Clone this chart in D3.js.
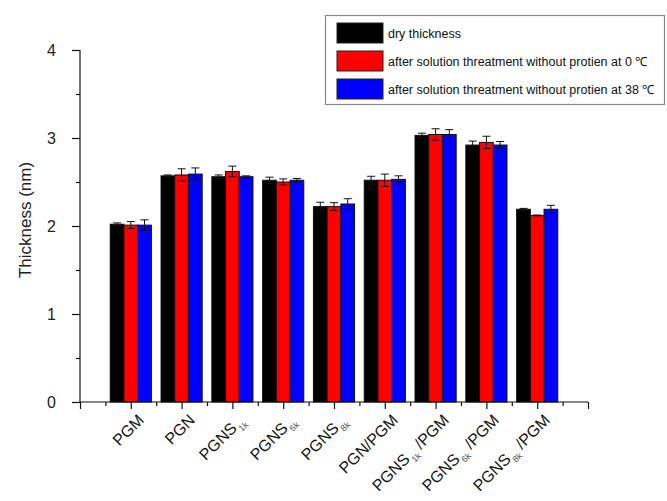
<!DOCTYPE html>
<html>
<head>
<meta charset="utf-8">
<script src="https://cdn.jsdelivr.net/npm/d3@7/dist/d3.min.js"></script>
<style>
  html, body { margin: 0; padding: 0; background: #fff; }
  #wrap { position: relative; width: 667px; height: 501px; }
  svg { display: block; font-family: Arial, "Liberation Sans", Helvetica, sans-serif; }
  .xlab { position: absolute; width: 0; height: 0; transform: rotate(-45deg); transform-origin: 0 0; }
  .xlab span {
    position: absolute; right: 0; top: -13.5px; line-height: 16px; white-space: nowrap;
    font-family: Arial, "Liberation Sans", Helvetica, sans-serif; font-size: 16px; color: #111;
  }
  .xlab .sub { font-size: 9px; color: #555; position: relative; top: 5px; margin: 0 1px; }
</style>
</head>
<body>
<div id="wrap">
<svg id="chart" width="667" height="501"></svg>
</div>
<script>
// Sample names: base text, subscript, trailing text
const labelBase = ["PGM", "PGN", "PGNS", "PGNS", "PGNS", "PGN/PGM", "PGNS", "PGNS", "PGNS"];
const labelSub  = ["", "", "1k", "6k", "8k", "", "1k", "6k", "8k"];
const labelTail = ["", "", "", "", "", "", "/PGM", "/PGM", "/PGM"];

// Layer thickness (nm) and standard deviations
const dryValues  = [2.02, 2.57, 2.56, 2.52, 2.22, 2.52, 3.03, 2.92, 2.19];
const dryErrors  = [0.015, 0.01, 0.02, 0.035, 0.05, 0.045, 0.025, 0.045, 0.01];
const coldValues = [2.01, 2.58, 2.62, 2.50, 2.22, 2.52, 3.04, 2.95, 2.12];
const coldErrors = [0.04, 0.07, 0.06, 0.035, 0.045, 0.07, 0.065, 0.07, 0.005];
const warmValues = [2.01, 2.59, 2.56, 2.52, 2.25, 2.53, 3.04, 2.92, 2.19];
const warmErrors = [0.06, 0.07, 0.01, 0.02, 0.06, 0.04, 0.055, 0.04, 0.045];

const seriesNames = [
  "dry thickness",
  "after solution threatment without protien at 0 \u2103",
  "after solution threatment without protien at 38 \u2103"
];
const seriesColors = ["#000000", "#ff0000", "#0000ff"];

const yTicks = [0, 1, 2, 3, 4];

const series = [
  { values: dryValues, errors: dryErrors },
  { values: coldValues, errors: coldErrors },
  { values: warmValues, errors: warmErrors }
];

const svg = d3.select("#chart");

const x = d3.scaleLinear().domain([0, 10]).range([80, 588]);
const y = d3.scaleLinear().domain([0, 4]).range([402, 50]);
const barW = x(0.27) - x(0);

// Bars with error bars
series.forEach((s, si) => {
  const g = svg.append("g");
  const off = (si - 1.5) * barW;
  g.selectAll("rect")
    .data(s.values)
    .join("rect")
    .attr("x", (d, i) => x(i + 1) + off)
    .attr("y", d => y(d))
    .attr("width", barW)
    .attr("height", d => y(0) - y(d))
    .attr("fill", seriesColors[si])
    .attr("stroke", "#111")
    .attr("stroke-width", 1);

  const eb = g.selectAll("g.err")
    .data(s.values.map((v, i) => ({ v, e: s.errors[i], i })))
    .join("g")
    .attr("class", "err")
    .attr("stroke", "#111")
    .attr("stroke-width", 1);
  const cx = d => x(d.i + 1) + off + barW / 2;
  eb.append("line")
    .attr("x1", cx).attr("x2", cx)
    .attr("y1", d => y(d.v - d.e)).attr("y2", d => y(d.v + d.e));
  eb.append("line")
    .attr("x1", d => cx(d) - 4).attr("x2", d => cx(d) + 4)
    .attr("y1", d => y(d.v + d.e)).attr("y2", d => y(d.v + d.e));
  eb.append("line")
    .attr("x1", d => cx(d) - 4).attr("x2", d => cx(d) + 4)
    .attr("y1", d => y(d.v - d.e)).attr("y2", d => y(d.v - d.e));
});

// Y axis: major ticks with labels, minor ticks between
const yAxis = svg.append("g").attr("transform", `translate(${x(0)},0)`);
yAxis.call(d3.axisLeft(y).tickValues(yTicks).tickSize(8).tickPadding(16).tickFormat(d3.format("d")));
svg.append("g").attr("transform", `translate(${x(0)},0)`)
  .call(d3.axisLeft(y).tickValues([0.5, 1.5, 2.5, 3.5]).tickSize(4).tickFormat(""))
  .call(g => g.select(".domain").remove());
yAxis.select(".domain").attr("d", `M0,${y(4)}V${y(0)}`);
yAxis.selectAll(".tick text").attr("font-size", 16).attr("fill", "#222")
  .attr("font-family", "Arial, 'Liberation Sans', sans-serif");

// X axis: major ticks at samples, minor ticks between
const xAxis = svg.append("g").attr("transform", `translate(0,${y(0)})`);
xAxis.call(d3.axisBottom(x).tickValues(d3.range(0, 11)).tickSize(7).tickFormat(""));
svg.append("g").attr("transform", `translate(0,${y(0)})`)
  .call(d3.axisBottom(x).tickValues(d3.range(0.5, 10, 1)).tickSize(4).tickFormat(""))
  .call(g => g.select(".domain").remove());
xAxis.select(".domain").attr("d", `M${x(0)},0H${x(10)}`);
svg.selectAll(".domain, .tick line").attr("stroke", "#111").attr("stroke-width", 1.2);

// Rotated sample names (HTML overlay, baseline end anchored below each tick)
const wrap = d3.select("#wrap");
labelBase.forEach((b, i) => {
  const holder = wrap.append("div")
    .attr("class", "xlab")
    .style("left", `${x(i + 1) + 14}px`)
    .style("top", `${y(0) + 19}px`);
  const span = holder.append("span");
  span.append("span").style("position", "static").text(b);
  if (labelSub[i]) {
    span.append("span").attr("class", "sub").text(labelSub[i]);
  }
  if (labelTail[i]) {
    span.append("span").style("position", "static").style("margin-left", "3px").text(labelTail[i]);
  }
});

// Y axis title
svg.append("text")
  .attr("transform", "translate(31,220) rotate(-90)")
  .attr("text-anchor", "middle")
  .attr("font-size", 17)
  .attr("fill", "#222")
  .text("Thickness (nm)");

// Legend
const legend = svg.append("g");
legend.append("rect")
  .attr("x", 325.5).attr("y", 15.5).attr("width", 339).attr("height", 89)
  .attr("fill", "#fff").attr("stroke", "#888").attr("stroke-width", 1.2);
seriesNames.forEach((name, i) => {
  const top = 23 + i * 28;
  legend.append("rect")
    .attr("x", 337).attr("y", top).attr("width", 46).attr("height", 20)
    .attr("fill", seriesColors[i]).attr("stroke", "#222").attr("stroke-width", 1);
  legend.append("text")
    .attr("x", 388).attr("y", top + 15)
    .attr("font-size", 12.5)
    .attr("fill", "#111")
    .text(name);
});
</script>
</body>
</html>
